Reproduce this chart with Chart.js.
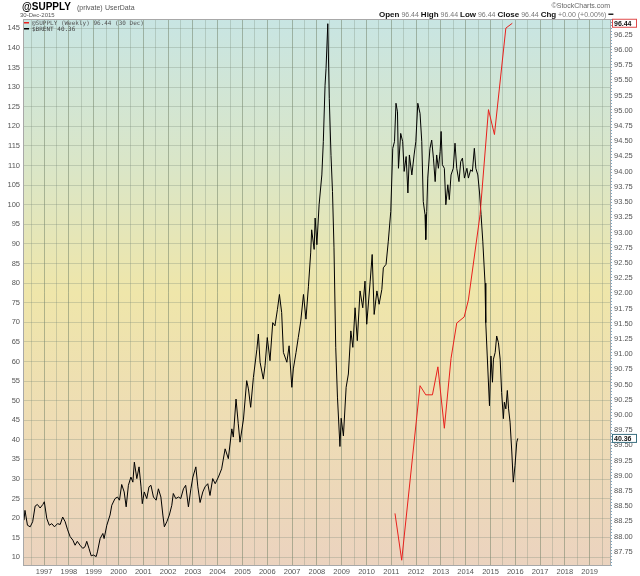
<!DOCTYPE html>
<html>
<head>
<meta charset="utf-8">
<title>@SUPPLY vs $BRENT</title>
<script src="https://cdn.jsdelivr.net/npm/chart.js@4.4.0/dist/chart.umd.min.js"></script>
<style>
  html, body { margin: 0; padding: 0; background: #fff; }
  #wrap { width: 640px; height: 576px; }
</style>
</head>
<body>
<div id="wrap"><canvas id="canvas" width="640" height="576"></canvas></div>
<script>
// weekly $BRENT close (decimal year, price)
const brentYears = [
  1996.19, 1996.23, 1996.33, 1996.44, 1996.54, 1996.64, 1996.73, 1996.84, 1996.95,
  1997.01, 1997.11, 1997.21, 1997.31, 1997.42, 1997.54, 1997.65, 1997.75, 1997.85, 1997.94,
  1998.05, 1998.16, 1998.25, 1998.34, 1998.45, 1998.56, 1998.65, 1998.72, 1998.81, 1998.90, 1998.99,
  1999.10, 1999.15, 1999.26, 1999.37, 1999.42, 1999.53, 1999.66, 1999.73, 1999.86, 1999.96,
  2000.04, 2000.13, 2000.23, 2000.31, 2000.40, 2000.50, 2000.58, 2000.64, 2000.74, 2000.83, 2000.91, 2000.96,
  2001.04, 2001.14, 2001.23, 2001.31, 2001.41, 2001.52, 2001.61, 2001.71, 2001.79, 2001.85, 2001.95,
  2002.05, 2002.15, 2002.21, 2002.31, 2002.42, 2002.51, 2002.62, 2002.71, 2002.82, 2002.92,
  2003.00, 2003.12, 2003.20, 2003.29, 2003.40, 2003.49, 2003.60, 2003.69, 2003.80, 2003.90,
  2004.03, 2004.16, 2004.30, 2004.43, 2004.57, 2004.63, 2004.74, 2004.83, 2004.90,
  2005.04, 2005.17, 2005.24, 2005.33, 2005.44, 2005.58, 2005.64, 2005.71, 2005.84, 2005.91,
  2006.00, 2006.11, 2006.22, 2006.31, 2006.41, 2006.49, 2006.58, 2006.65, 2006.79, 2006.88, 2006.99,
  2007.05, 2007.16, 2007.25, 2007.35, 2007.46, 2007.56, 2007.66, 2007.75, 2007.79, 2007.89, 2007.93,
  2008.00, 2008.09, 2008.20, 2008.26, 2008.33, 2008.37, 2008.44, 2008.50, 2008.57, 2008.63, 2008.69,
  2008.76, 2008.83, 2008.93, 2008.98, 2009.07,
  2009.18, 2009.27, 2009.37, 2009.45, 2009.54, 2009.63, 2009.74, 2009.85, 2009.94,
  2010.01, 2010.15, 2010.23, 2010.31, 2010.42, 2010.51, 2010.62, 2010.68, 2010.79, 2010.88, 2010.98,
  2011.06, 2011.13, 2011.19, 2011.25, 2011.29, 2011.38, 2011.46, 2011.52, 2011.60, 2011.67, 2011.73,
  2011.83, 2011.92, 2011.99,
  2012.07, 2012.16, 2012.23, 2012.29, 2012.36, 2012.39, 2012.43, 2012.47, 2012.56, 2012.63, 2012.70,
  2012.77, 2012.83, 2012.90, 2012.97,
  2013.01, 2013.06, 2013.14, 2013.20, 2013.28, 2013.34, 2013.41, 2013.50, 2013.57, 2013.64, 2013.73,
  2013.80, 2013.87, 2013.95,
  2014.05, 2014.11, 2014.20, 2014.27, 2014.35, 2014.41, 2014.49, 2014.56, 2014.62, 2014.69, 2014.78,
  2014.81, 2014.87, 2014.96,
  2015.02, 2015.08, 2015.12, 2015.19, 2015.25, 2015.32, 2015.39, 2015.45, 2015.52, 2015.56, 2015.62,
  2015.68, 2015.73, 2015.79, 2015.86, 2015.92, 2015.99, 2016.06, 2016.10
];
const brentValues = [
  19.5, 22.0, 18.2, 17.8, 19.1, 23.1, 23.5, 22.6, 23.5,
  24.2, 19.9, 18.2, 18.6, 17.8, 18.6, 18.4, 20.3, 19.1, 17.2,
  15.3, 14.4, 13.1, 14.1, 13.1, 12.3, 12.7, 14.1, 12.3, 10.4, 10.6,
  10.2, 11.4, 14.8, 16.1, 14.8, 18.2, 20.8, 23.3, 25.0, 25.4,
  24.6, 28.6, 26.7, 22.9, 28.4, 30.5, 29.2, 34.3, 30.1, 33.1, 28.0, 23.7,
  26.7, 25.0, 28.0, 28.4, 25.4, 24.6, 27.5, 25.4, 20.8, 17.8, 19.1,
  20.8, 23.3, 26.3, 25.0, 25.4, 25.0, 27.5, 28.4, 22.9, 27.5,
  30.5, 33.1, 28.0, 24.0, 26.7, 28.0, 28.8, 25.8, 30.1, 28.8,
  30.5, 32.6, 37.7, 35.2, 42.8, 40.7, 50.4, 44.1, 39.4,
  45.3, 55.1, 53.0, 48.3, 55.9, 63.1, 67.0, 59.8, 55.5, 58.9,
  66.1, 60.2, 69.9, 69.1, 73.3, 77.1, 72.5, 62.3, 59.8, 64.0, 53.4,
  58.1, 62.3, 66.1, 70.3, 77.1, 70.8, 79.2, 87.7, 93.6, 88.6, 96.6,
  89.8, 100.0, 107.6, 116.1, 130.5, 134.8, 146.2, 127.1, 112.6, 103.4, 89.0,
  63.6, 50.9, 38.3, 45.5, 41.0,
  53.4, 56.8, 67.8, 63.6, 73.7, 65.3, 78.0, 73.7, 80.5,
  69.5, 80.5, 87.3, 72.0, 78.0, 74.6, 78.4, 83.9, 84.8, 90.7, 98.3,
  114.4, 116.1, 125.9, 123.7, 109.3, 118.2, 116.1, 108.5, 112.3, 103.0, 112.7,
  107.6, 112.7, 116.1,
  125.9, 123.3, 116.1, 100.8, 97.5, 91.1, 98.3, 106.8, 114.4, 116.5, 111.9,
  105.9, 112.7, 109.3, 113.6,
  118.7, 110.2, 109.3, 100.0, 105.1, 101.3, 107.6, 109.3, 115.7, 109.3, 105.9,
  111.0, 111.9, 106.8,
  109.3, 106.8, 108.9, 108.5, 114.4, 109.3, 107.6, 103.0, 97.5, 90.7, 80.0,
  69.9, 61.4, 48.7,
  61.4, 54.7, 60.6, 62.3, 66.5, 64.8, 60.6, 52.1, 45.4, 49.6, 47.9,
  52.6, 47.9, 44.5, 36.9, 29.2, 33.5, 39.4, 40.36
];

// @SUPPLY user data (right scale)
const supplyYears = [2011.15, 2011.42, 2012.16, 2012.39, 2012.66, 2012.88, 2013.14, 2013.41,
  2013.64, 2013.94, 2014.11, 2014.58, 2014.92, 2015.16, 2015.62, 2015.88];
const supplyValues = [88.38, 87.61, 90.48, 90.33, 90.33, 90.79, 89.78, 90.93,
  91.51, 91.61, 91.89, 93.29, 95.02, 94.61, 96.36, 96.44];

const leftTicks = [10, 15, 20, 25, 30, 35, 40, 45, 50, 55, 60, 65, 70, 75, 80, 85, 90, 95,
  100, 105, 110, 115, 120, 125, 130, 135, 140, 145];
const rightTicks = [87.75, 88.00, 88.25, 88.50, 88.75, 89.00, 89.25, 89.50, 89.75, 90.00,
  90.25, 90.50, 90.75, 91.00, 91.25, 91.50, 91.75, 92.00, 92.25, 92.50, 92.75, 93.00,
  93.25, 93.50, 93.75, 94.00, 94.25, 94.50, 94.75, 95.00, 95.25, 95.50, 95.75, 96.00, 96.25];
const yearTicks = [1997, 1998, 1999, 2000, 2001, 2002, 2003, 2004, 2005, 2006, 2007, 2008,
  2009, 2010, 2011, 2012, 2013, 2014, 2015, 2016, 2017, 2018, 2019];

const lastSupply = 96.44;
const lastBrent = 40.36;

document.addEventListener('DOMContentLoaded', function() {
    const colors = {
        brent: "#000000",
        supply: "#e8201c",
        grid: "rgba(120, 135, 120, 0.30)",
        gridYear: "rgba(110, 125, 100, 0.50)",
        tickText: "#555555"
    };
    const sans = '"Liberation Sans", Arial, sans-serif';
    const mono = '"DejaVu Sans Mono", monospace';

    const brentPoints = brentYears.map((x, i) => ({ x: x, y: brentValues[i] }));
    const supplyPoints = supplyYears.map((x, i) => ({ x: x, y: supplyValues[i] }));

    // half-year grid, labels only on the year lines
    const xGridTicks = [];
    yearTicks.forEach(yr => {
        xGridTicks.push({ value: yr - 0.5 });
        xGridTicks.push({ value: yr });
    });
    xGridTicks.push({ value: 2019.5 });

    const backdrop = {
        id: 'backdrop',
        beforeDraw(chart) {
            const { ctx, chartArea: a } = chart;
            const g = ctx.createLinearGradient(0, a.top, 0, a.bottom);
            g.addColorStop(0, "#c8e5e3");
            g.addColorStop(0.28, "#dbe6c6");
            g.addColorStop(0.5, "#efe6aa");
            g.addColorStop(0.75, "#eedcb5");
            g.addColorStop(1, "#ebd3bf");
            ctx.save();
            ctx.fillStyle = "#ffffff";
            ctx.fillRect(0, 0, chart.width, chart.height);
            ctx.fillStyle = g;
            ctx.fillRect(a.left, a.top, a.right - a.left, a.bottom - a.top);
            ctx.restore();
        },
        afterDraw(chart) {
            const { ctx, chartArea: a } = chart;
            ctx.save();

            // frame
            ctx.strokeStyle = "#a8a8a8";
            ctx.lineWidth = 1;
            ctx.strokeRect(a.left + 0.5, a.top + 0.5, a.right - a.left - 1, a.bottom - a.top - 1);
            ctx.strokeStyle = "#7aa9c4";
            ctx.setLineDash([1, 2]);
            ctx.beginPath();
            ctx.moveTo(a.right + 0.5, a.top);
            ctx.lineTo(a.right + 0.5, a.bottom);
            ctx.stroke();
            ctx.setLineDash([]);

            // title block
            ctx.textBaseline = "alphabetic";
            ctx.textAlign = "left";
            ctx.fillStyle = "#000";
            ctx.font = "bold 10px " + sans;
            ctx.fillText("@SUPPLY", 22, 10);
            ctx.fillStyle = "#555";
            ctx.font = "7px " + sans;
            ctx.fillText("(private)", 77, 10);
            ctx.fillText("UserData", 105, 10);
            ctx.font = "6px " + sans;
            ctx.fillText("30-Dec-2015", 20, 17);

            // quote line, top right
            ctx.textAlign = "right";
            ctx.fillStyle = "#666";
            ctx.font = "7px " + sans;
            ctx.fillText("\u00a9StockCharts.com", 610, 8);
            const parts = [
                ["Open", true], [" 96.44 ", false], ["High", true], [" 96.44 ", false],
                ["Low", true], [" 96.44 ", false], ["Close", true], [" 96.44 ", false],
                ["Chg", true], [" +0.00 (+0.00%)", false]
            ];
            let qx = 379;
            ctx.textAlign = "left";
            parts.forEach(p => {
                ctx.font = p[1] ? "bold 8px " + sans : "7px " + sans;
                ctx.fillStyle = p[1] ? "#111" : "#777";
                ctx.fillText(p[0], qx, 17);
                qx += ctx.measureText(p[0]).width;
            });
            ctx.fillStyle = "#222";
            ctx.fillRect(qx + 2, 13.5, 5, 1.5);

            // legend inside the plot
            ctx.font = "6px " + mono;
            ctx.fillStyle = colors.supply;
            ctx.fillRect(24, 22, 5, 1.5);
            ctx.fillStyle = "#555";
            ctx.fillText("@SUPPLY (Weekly) 96.44 (30 Dec)", 32, 25);
            ctx.fillStyle = colors.brent;
            ctx.fillRect(24, 28, 5, 1.5);
            ctx.fillStyle = "#444";
            ctx.fillText("$BRENT 40.36", 32, 31);

            // last value tags on the right axis
            const tag = (y, text, border) => {
                ctx.fillStyle = "#ffffff";
                ctx.fillRect(a.right + 1, y - 4.5, 25, 9);
                ctx.strokeStyle = border;
                ctx.lineWidth = 1;
                ctx.strokeRect(a.right + 1.5, y - 4, 24, 8);
                ctx.fillStyle = "#111";
                ctx.font = "bold 7px " + sans;
                ctx.textAlign = "left";
                ctx.textBaseline = "middle";
                ctx.fillText(text, a.right + 3, y + 0.5);
            };
            tag(chart.scales.y1.getPixelForValue(lastSupply), lastSupply.toFixed(2), "#e04a4a");
            tag(chart.scales.y.getPixelForValue(lastBrent), lastBrent.toFixed(2), "#3b6f80");
            ctx.restore();
        }
    };

    const canvas = document.getElementById("canvas");
    const ctx2 = canvas.getContext("2d");

    const options = {
        type: "line",
        data: {
            datasets: [{
                label: "@SUPPLY",
                data: supplyPoints,
                yAxisID: "y1",
                borderColor: colors.supply,
                borderWidth: 1,
                pointRadius: 0,
                tension: 0
            }, {
                label: "$BRENT",
                data: brentPoints,
                yAxisID: "y",
                borderColor: colors.brent,
                borderWidth: 1,
                pointRadius: 0,
                tension: 0
            }]
        },
        options: {
            responsive: false,
            animation: false,
            layout: {
                padding: { top: 19, left: 0, right: 0, bottom: 0 }
            },
            plugins: {
                legend: { display: false },
                tooltip: { enabled: false }
            },
            scales: {
                x: {
                    type: "linear",
                    min: 1996.15,
                    max: 2019.86,
                    afterBuildTicks: s => { s.ticks = xGridTicks.map(t => ({ value: t.value })); },
                    afterFit: s => { s.height = 10; },
                    grid: {
                        color: c => (c.tick && Number.isInteger(c.tick.value)) ? colors.gridYear : colors.grid,
                        drawTicks: false
                    },
                    border: { display: false },
                    ticks: {
                        autoSkip: false,
                        maxRotation: 0,
                        minRotation: 0,
                        padding: 1,
                        color: colors.tickText,
                        font: { family: sans, size: 7.5 },
                        callback: v => Number.isInteger(v) ? String(v) : ""
                    }
                },
                y: {
                    position: "left",
                    min: 7.8,
                    max: 147.4,
                    afterBuildTicks: s => { s.ticks = leftTicks.map(v => ({ value: v })); },
                    afterFit: s => { s.width = 23; },
                    grid: {
                        color: colors.grid,
                        drawTicks: false
                    },
                    border: { display: false },
                    ticks: {
                        padding: 3,
                        color: colors.tickText,
                        font: { family: sans, size: 7.5 }
                    }
                },
                y1: {
                    position: "right",
                    min: 87.515,
                    max: 96.51,
                    afterBuildTicks: s => { s.ticks = rightTicks.map(v => ({ value: v })); },
                    afterFit: s => { s.width = 29; },
                    grid: {
                        drawOnChartArea: false,
                        drawTicks: false
                    },
                    border: { display: false },
                    ticks: {
                        padding: 3,
                        color: colors.tickText,
                        font: { family: sans, size: 7.5 },
                        callback: v => v.toFixed(2)
                    }
                }
            }
        },
        plugins: [backdrop]
    };

    new Chart(ctx2, options);
});
</script>
</body>
</html>
